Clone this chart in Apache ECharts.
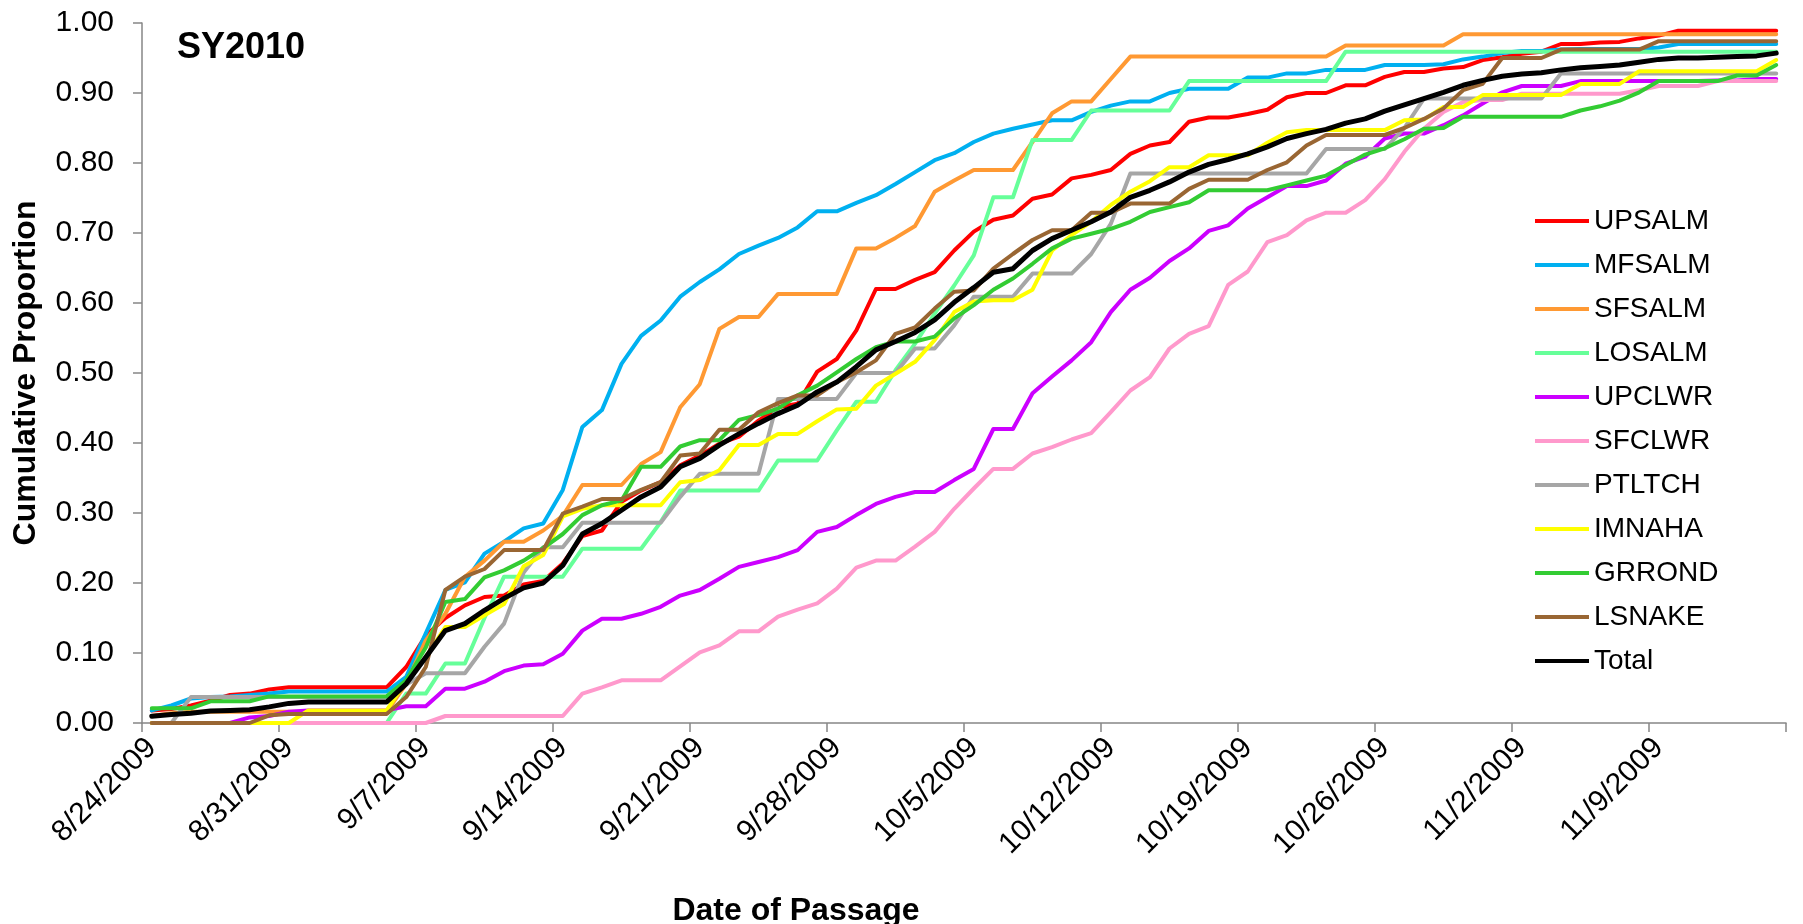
<!DOCTYPE html>
<html>

<head>
    <meta charset="utf-8" />
    <title>SY2010 cumulative passage</title>
    <script src="https://cdn.jsdelivr.net/npm/echarts@6/dist/echarts.min.js"></script>
    <style type="text/css">
        body {
            margin: 0;
            padding: 0;
            background-color: #ffffff;
            overflow: hidden;
        }

        #main {
            width: 1803px;
            height: 924px;
        }
    </style>
</head>

<body>
    <div id="main"></div>
    <script type="text/javascript">
        // one category per day, 8/24/2009 .. 11/15/2009
        var dates = [];
        for (let i = 0; i < 84; i++) {
            let d = new Date(2009, 7, 24 + i);
            dates.push((d.getMonth() + 1) + '/' + d.getDate() + '/' + d.getFullYear());
        }

        var names = ['UPSALM', 'MFSALM', 'SFSALM', 'LOSALM', 'UPCLWR', 'SFCLWR', 'PTLTCH', 'IMNAHA', 'GRROND', 'LSNAKE', 'Total'];
        var colors = ['#ff0000', '#00b0f0', '#ff9933', '#66ff99', '#cc00ff', '#ff99cc', '#a6a6a6', '#ffff00', '#33cc33', '#996633', '#000000'];

        // cumulative proportion, one row per week
        var upsalm = [
            0.018, 0.02, 0.025, 0.032, 0.04, 0.042, 0.048,
            0.051, 0.051, 0.051, 0.051, 0.051, 0.051, 0.08,
            0.125, 0.15, 0.168, 0.18, 0.182, 0.198, 0.203,
            0.228, 0.267, 0.275, 0.316, 0.332, 0.344, 0.368,
            0.382, 0.399, 0.409, 0.432, 0.451, 0.456, 0.502,
            0.52, 0.561, 0.62, 0.62, 0.633, 0.644, 0.675,
            0.702, 0.719, 0.725, 0.749, 0.755, 0.778, 0.783,
            0.79, 0.813, 0.825, 0.83, 0.859, 0.865, 0.865,
            0.87, 0.876, 0.894, 0.9, 0.9, 0.911, 0.911,
            0.923, 0.93, 0.93, 0.935, 0.937, 0.947, 0.951,
            0.956, 0.959, 0.97, 0.97, 0.972, 0.973, 0.978,
            0.982, 0.989, 0.989, 0.989, 0.989, 0.989, 0.989
        ];
        var mfsalm = [
            0.018, 0.025, 0.035, 0.037, 0.038, 0.04, 0.042,
            0.045, 0.045, 0.045, 0.045, 0.045, 0.045, 0.066,
            0.128, 0.19, 0.201, 0.242, 0.259, 0.278, 0.285,
            0.333, 0.423, 0.447, 0.513, 0.553, 0.575, 0.609,
            0.63, 0.648, 0.67, 0.682, 0.693, 0.708, 0.731,
            0.731, 0.743, 0.754, 0.77, 0.787, 0.804, 0.814,
            0.83, 0.842, 0.849, 0.855, 0.861, 0.861, 0.873,
            0.882, 0.888, 0.888, 0.9, 0.906, 0.906, 0.906,
            0.922, 0.922, 0.928, 0.928, 0.933, 0.933, 0.933,
            0.94, 0.94, 0.94, 0.941, 0.948, 0.952, 0.957,
            0.96, 0.96, 0.962, 0.963, 0.963, 0.963, 0.963,
            0.965, 0.97, 0.97, 0.97, 0.97, 0.97, 0.97
        ];
        var sfsalm = [
            0.01, 0.014, 0.016, 0.016, 0.016, 0.016, 0.016,
            0.016, 0.016, 0.016, 0.016, 0.016, 0.016, 0.056,
            0.118, 0.156, 0.209, 0.232, 0.259, 0.259, 0.275,
            0.296, 0.34, 0.34, 0.34, 0.37, 0.387, 0.451,
            0.484, 0.563, 0.58, 0.58, 0.613, 0.613, 0.613,
            0.613, 0.678, 0.678, 0.693, 0.71, 0.759, 0.775,
            0.79, 0.79, 0.79, 0.83, 0.871, 0.888, 0.888,
            0.92, 0.952, 0.952, 0.952, 0.952, 0.952, 0.952,
            0.952, 0.952, 0.952, 0.952, 0.952, 0.968, 0.968,
            0.968, 0.968, 0.968, 0.968, 0.984, 0.984, 0.984,
            0.984, 0.984, 0.984, 0.984, 0.984, 0.984, 0.984,
            0.984, 0.984, 0.984, 0.984, 0.984, 0.984, 0.984
        ];
        var losalm = [
            0, 0, 0, 0, 0, 0, 0,
            0, 0, 0, 0, 0, 0, 0.042,
            0.042, 0.085, 0.085, 0.15, 0.209, 0.209, 0.209,
            0.209, 0.249, 0.249, 0.249, 0.249, 0.287, 0.332,
            0.332, 0.332, 0.332, 0.332, 0.375, 0.375, 0.375,
            0.418, 0.459, 0.459, 0.504, 0.542, 0.585, 0.625,
            0.668, 0.751, 0.751, 0.833, 0.833, 0.833, 0.875,
            0.875, 0.875, 0.875, 0.875, 0.917, 0.917, 0.917,
            0.917, 0.917, 0.917, 0.917, 0.917, 0.959, 0.959,
            0.959, 0.959, 0.959, 0.959, 0.959, 0.959, 0.959,
            0.959, 0.959, 0.959, 0.959, 0.959, 0.959, 0.959,
            0.959, 0.959, 0.959, 0.959, 0.959, 0.959, 0.959
        ];
        var upclwr = [
            0, 0, 0, 0, 0, 0.008, 0.01,
            0.016, 0.018, 0.018, 0.018, 0.018, 0.018, 0.024,
            0.024, 0.049, 0.049, 0.059, 0.074, 0.082, 0.084,
            0.099, 0.132, 0.149, 0.149, 0.156, 0.166, 0.182,
            0.19, 0.206, 0.223, 0.23, 0.237, 0.247, 0.273,
            0.28, 0.297, 0.313, 0.323, 0.33, 0.33, 0.347,
            0.363, 0.42, 0.42, 0.471, 0.495, 0.518, 0.544,
            0.587, 0.619, 0.636, 0.66, 0.678, 0.703, 0.711,
            0.735, 0.751, 0.767, 0.767, 0.775, 0.799, 0.809,
            0.835, 0.842, 0.842, 0.854, 0.868, 0.885, 0.901,
            0.91, 0.91, 0.91, 0.917, 0.917, 0.917, 0.917,
            0.917, 0.917, 0.917, 0.918, 0.918, 0.92, 0.92
        ];
        var sfclwr = [
            0, 0, 0, 0, 0, 0, 0,
            0, 0, 0, 0, 0, 0, 0,
            0, 0.01, 0.01, 0.01, 0.01, 0.01, 0.01,
            0.01, 0.042, 0.051, 0.061, 0.061, 0.061, 0.081,
            0.101, 0.111, 0.131, 0.131, 0.152, 0.162, 0.171,
            0.192, 0.222, 0.232, 0.232, 0.252, 0.273, 0.306,
            0.335, 0.363, 0.363, 0.385, 0.394, 0.405, 0.414,
            0.444, 0.475, 0.494, 0.535, 0.556, 0.567, 0.626,
            0.645, 0.687, 0.697, 0.718, 0.729, 0.729, 0.747,
            0.777, 0.816, 0.849, 0.873, 0.887, 0.89, 0.89,
            0.899, 0.899, 0.899, 0.899, 0.899, 0.899, 0.904,
            0.91, 0.91, 0.91, 0.917, 0.917, 0.917, 0.917
        ];
        var ptltch = [
            0, 0, 0.037, 0.037, 0.037, 0.037, 0.037,
            0.037, 0.037, 0.037, 0.037, 0.037, 0.037, 0.055,
            0.071, 0.071, 0.071, 0.109, 0.142, 0.215, 0.251,
            0.251, 0.286, 0.286, 0.286, 0.286, 0.286, 0.323,
            0.356, 0.356, 0.356, 0.356, 0.463, 0.463, 0.463,
            0.463, 0.5, 0.5, 0.5, 0.535, 0.535, 0.568,
            0.609, 0.609, 0.609, 0.642, 0.642, 0.642, 0.67,
            0.713, 0.785, 0.785, 0.785, 0.785, 0.785, 0.785,
            0.785, 0.785, 0.785, 0.785, 0.82, 0.82, 0.82,
            0.82, 0.85, 0.892, 0.892, 0.892, 0.892, 0.892,
            0.892, 0.892, 0.928, 0.928, 0.928, 0.928, 0.928,
            0.928, 0.928, 0.928, 0.928, 0.928, 0.928, 0.928
        ];
        var imnaha = [
            0, 0, 0, 0, 0, 0, 0,
            0, 0.018, 0.018, 0.018, 0.018, 0.018, 0.06,
            0.094, 0.137, 0.137, 0.154, 0.17, 0.224, 0.24,
            0.295, 0.306, 0.311, 0.311, 0.311, 0.311, 0.344,
            0.347, 0.361, 0.397, 0.397, 0.413, 0.413, 0.431,
            0.448, 0.449, 0.482, 0.499, 0.516, 0.547, 0.587,
            0.602, 0.604, 0.604, 0.619, 0.675, 0.697, 0.716,
            0.74, 0.759, 0.774, 0.794, 0.794, 0.811, 0.811,
            0.811, 0.829, 0.844, 0.847, 0.847, 0.847, 0.847,
            0.847, 0.861, 0.862, 0.88, 0.88, 0.897, 0.897,
            0.897, 0.897, 0.897, 0.913, 0.913, 0.913, 0.931,
            0.931, 0.931, 0.931, 0.931, 0.931, 0.931, 0.947
        ];
        var grrond = [
            0.021, 0.021, 0.021, 0.031, 0.031, 0.031, 0.038,
            0.038, 0.038, 0.038, 0.038, 0.038, 0.038, 0.061,
            0.108, 0.173, 0.177, 0.208, 0.218, 0.232, 0.25,
            0.27, 0.297, 0.311, 0.318, 0.366, 0.366, 0.395,
            0.404, 0.404, 0.433, 0.44, 0.449, 0.468, 0.482,
            0.501, 0.52, 0.537, 0.545, 0.545, 0.552, 0.578,
            0.597, 0.619, 0.635, 0.656, 0.678, 0.692, 0.699,
            0.706, 0.716, 0.73, 0.737, 0.744, 0.761, 0.761,
            0.761, 0.761, 0.768, 0.775, 0.782, 0.797, 0.812,
            0.821, 0.834, 0.849, 0.85, 0.866, 0.866, 0.866,
            0.866, 0.866, 0.866, 0.875, 0.881, 0.889, 0.901,
            0.917, 0.917, 0.917, 0.917, 0.925, 0.925, 0.94
        ];
        var lsnake = [
            0, 0, 0, 0, 0, 0, 0.011,
            0.013, 0.013, 0.013, 0.013, 0.013, 0.013, 0.037,
            0.08, 0.19, 0.209, 0.22, 0.247, 0.247, 0.247,
            0.299, 0.309, 0.32, 0.32, 0.333, 0.344, 0.382,
            0.385, 0.419, 0.419, 0.444, 0.457, 0.468, 0.468,
            0.487, 0.501, 0.518, 0.556, 0.565, 0.592, 0.616,
            0.618, 0.649, 0.67, 0.69, 0.704, 0.704, 0.729,
            0.729, 0.742, 0.742, 0.742, 0.763, 0.776, 0.776,
            0.776, 0.79, 0.801, 0.825, 0.84, 0.84, 0.84,
            0.84, 0.85, 0.863, 0.878, 0.904, 0.913, 0.95,
            0.95, 0.95, 0.962, 0.962, 0.962, 0.962, 0.962,
            0.974, 0.974, 0.974, 0.974, 0.974, 0.974, 0.974
        ];
        var total = [
            0.0095, 0.012, 0.014, 0.017, 0.018, 0.019, 0.023,
            0.028, 0.03, 0.03, 0.03, 0.03, 0.03, 0.056,
            0.094, 0.132, 0.142, 0.161, 0.178, 0.193, 0.2,
            0.225, 0.27, 0.285, 0.304, 0.323, 0.337, 0.366,
            0.378, 0.397, 0.413, 0.428, 0.442, 0.454, 0.473,
            0.487, 0.509, 0.533, 0.545, 0.558, 0.576, 0.601,
            0.622, 0.644, 0.649, 0.675, 0.692, 0.704, 0.716,
            0.73, 0.751, 0.761, 0.773, 0.787, 0.798, 0.805,
            0.813, 0.823, 0.835, 0.842, 0.848, 0.857, 0.863,
            0.874, 0.883, 0.892, 0.901, 0.911, 0.918, 0.924,
            0.927, 0.929, 0.933, 0.936, 0.938, 0.94, 0.944,
            0.948, 0.95, 0.95, 0.951, 0.952, 0.953, 0.957
        ];
        var values = [upsalm, mfsalm, sfsalm, losalm, upclwr, sfclwr, ptltch, imnaha, grrond, lsnake, total];

        var font = "'Liberation Sans', Arial, sans-serif";
        var axisGray = '#868686';

        var series = names.map(function (name, i) {
            return {
                name: name,
                type: 'line',
                data: values[i],
                symbol: 'none',
                color: colors[i],
                lineStyle: {
                    width: name == 'Total' ? 5 : 4,
                    color: colors[i],
                    cap: 'round',
                    join: 'round'
                }
            };
        });

        var myChart = echarts.init(document.getElementById('main'), null, { renderer: 'canvas' });
        var options = {
            animation: false,
            backgroundColor: '#ffffff',
            textStyle: { fontFamily: font },
            title: {
                text: 'SY2010',
                left: 172,
                top: 25,
                textStyle: { fontFamily: font, fontSize: 36, fontWeight: 'bold', color: '#000' }
            },
            legend: {
                orient: 'vertical',
                left: 1530,
                top: 201,
                itemWidth: 54,
                itemHeight: 14,
                itemGap: 14,
                icon: 'path://M0,0 L54,0 L54,4 L0,4 Z',
                textStyle: { fontFamily: font, fontSize: 28, lineHeight: 30, color: '#000' },
                data: names
            },
            // fixed plot box; keep v6 from shrinking it to fit names/labels
            grid: {
                left: 142,
                top: 23,
                right: 17,
                bottom: 201,
                containLabel: false,
                outerBoundsMode: 'none'
            },
            xAxis: {
                type: 'category',
                data: dates,
                boundaryGap: true,
                name: 'Date of Passage',
                nameLocation: 'middle',
                nameGap: 172,
                nameTextStyle: {
                    fontFamily: font, fontSize: 32, fontWeight: 'bold', color: '#000',
                    padding: [0, 336, 0, 0]
                },
                axisLine: { lineStyle: { color: axisGray, width: 1.5 } },
                axisTick: { show: true, interval: 6, length: 9, lineStyle: { color: axisGray, width: 1.5 } },
                axisLabel: {
                    interval: 6,
                    rotate: 45,
                    margin: 20,
                    fontFamily: font,
                    fontSize: 30,
                    color: '#000'
                },
                splitLine: { show: false }
            },
            yAxis: {
                type: 'value',
                min: 0,
                max: 1,
                interval: 0.1,
                name: 'Cumulative Proportion',
                nameLocation: 'middle',
                nameGap: 100,
                nameTextStyle: { fontFamily: font, fontSize: 32, fontWeight: 'bold', color: '#000' },
                axisLine: { show: true, lineStyle: { color: axisGray, width: 1.5 } },
                axisTick: { show: true, length: 9, lineStyle: { color: axisGray, width: 1.5 } },
                axisLabel: {
                    margin: 28,
                    fontFamily: font,
                    fontSize: 30,
                    color: '#000',
                    formatter: function (v) { return v.toFixed(2); }
                },
                splitLine: { show: false }
            },
            series: series
        };
        myChart.setOption(options);
    </script>
</body>

</html>
